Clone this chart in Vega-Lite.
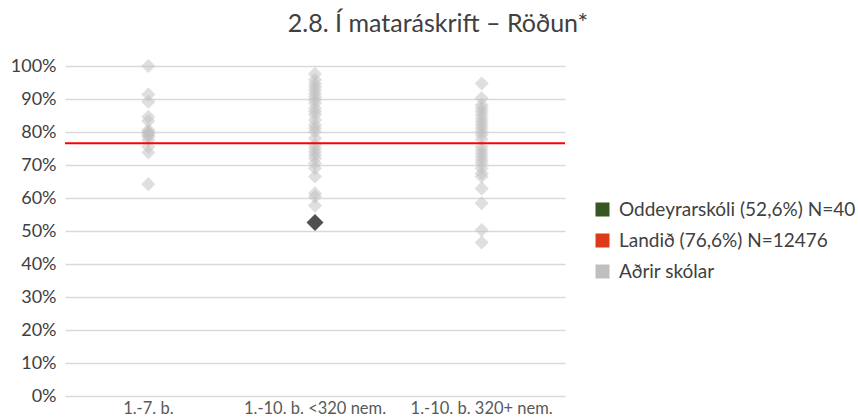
{
  "$schema": "https://vega.github.io/schema/vega-lite/v6.json",
  "width": 500,
  "height": 330,
  "autosize": "none",
  "padding": {"left": 65, "top": 66, "right": 293, "bottom": 22},
  "background": "white",
  "config": {
    "font": "Lato",
    "view": {"stroke": null}
  },
  "title": {
    "text": "2.8. Í mataráskrift – Röðun*",
    "fontSize": 25,
    "fontWeight": "normal",
    "color": "#404040",
    "anchor": "middle",
    "baseline": "alphabetic",
    "offset": 0,
    "dx": 123
  },
  "datasets": {
    "schools": [
      {"group": "1.-7. b.", "value": 100, "school": "other"},
      {"group": "1.-7. b.", "value": 91.4, "school": "other"},
      {"group": "1.-7. b.", "value": 89.2, "school": "other"},
      {"group": "1.-7. b.", "value": 84.6, "school": "other"},
      {"group": "1.-7. b.", "value": 83.3, "school": "other"},
      {"group": "1.-7. b.", "value": 80.6, "school": "other"},
      {"group": "1.-7. b.", "value": 80.0, "school": "other"},
      {"group": "1.-7. b.", "value": 79.6, "school": "other"},
      {"group": "1.-7. b.", "value": 79.0, "school": "other"},
      {"group": "1.-7. b.", "value": 78.6, "school": "other"},
      {"group": "1.-7. b.", "value": 77.6, "school": "other"},
      {"group": "1.-7. b.", "value": 75.5, "school": "other"},
      {"group": "1.-7. b.", "value": 73.8, "school": "other"},
      {"group": "1.-7. b.", "value": 64.2, "school": "other"},
      {"group": "1.-10. b. <320 nem.", "value": 97.6, "school": "other"},
      {"group": "1.-10. b. <320 nem.", "value": 95.8, "school": "other"},
      {"group": "1.-10. b. <320 nem.", "value": 94.7, "school": "other"},
      {"group": "1.-10. b. <320 nem.", "value": 93.7, "school": "other"},
      {"group": "1.-10. b. <320 nem.", "value": 92.7, "school": "other"},
      {"group": "1.-10. b. <320 nem.", "value": 91.7, "school": "other"},
      {"group": "1.-10. b. <320 nem.", "value": 90.7, "school": "other"},
      {"group": "1.-10. b. <320 nem.", "value": 89.7, "school": "other"},
      {"group": "1.-10. b. <320 nem.", "value": 88.7, "school": "other"},
      {"group": "1.-10. b. <320 nem.", "value": 87.2, "school": "other"},
      {"group": "1.-10. b. <320 nem.", "value": 86.2, "school": "other"},
      {"group": "1.-10. b. <320 nem.", "value": 85.2, "school": "other"},
      {"group": "1.-10. b. <320 nem.", "value": 83.6, "school": "other"},
      {"group": "1.-10. b. <320 nem.", "value": 82.1, "school": "other"},
      {"group": "1.-10. b. <320 nem.", "value": 81.1, "school": "other"},
      {"group": "1.-10. b. <320 nem.", "value": 80.1, "school": "other"},
      {"group": "1.-10. b. <320 nem.", "value": 78.1, "school": "other"},
      {"group": "1.-10. b. <320 nem.", "value": 76.1, "school": "other"},
      {"group": "1.-10. b. <320 nem.", "value": 75.1, "school": "other"},
      {"group": "1.-10. b. <320 nem.", "value": 74.0, "school": "other"},
      {"group": "1.-10. b. <320 nem.", "value": 73.0, "school": "other"},
      {"group": "1.-10. b. <320 nem.", "value": 72.0, "school": "other"},
      {"group": "1.-10. b. <320 nem.", "value": 70.5, "school": "other"},
      {"group": "1.-10. b. <320 nem.", "value": 69.0, "school": "other"},
      {"group": "1.-10. b. <320 nem.", "value": 66.5, "school": "other"},
      {"group": "1.-10. b. <320 nem.", "value": 61.4, "school": "other"},
      {"group": "1.-10. b. <320 nem.", "value": 60.4, "school": "other"},
      {"group": "1.-10. b. <320 nem.", "value": 57.7, "school": "other"},
      {"group": "1.-10. b. 320+ nem.", "value": 94.7, "school": "other"},
      {"group": "1.-10. b. 320+ nem.", "value": 90.2, "school": "other"},
      {"group": "1.-10. b. 320+ nem.", "value": 88.2, "school": "other"},
      {"group": "1.-10. b. 320+ nem.", "value": 87.2, "school": "other"},
      {"group": "1.-10. b. 320+ nem.", "value": 86.2, "school": "other"},
      {"group": "1.-10. b. 320+ nem.", "value": 85.2, "school": "other"},
      {"group": "1.-10. b. 320+ nem.", "value": 84.1, "school": "other"},
      {"group": "1.-10. b. 320+ nem.", "value": 83.1, "school": "other"},
      {"group": "1.-10. b. 320+ nem.", "value": 82.1, "school": "other"},
      {"group": "1.-10. b. 320+ nem.", "value": 81.1, "school": "other"},
      {"group": "1.-10. b. 320+ nem.", "value": 80.1, "school": "other"},
      {"group": "1.-10. b. 320+ nem.", "value": 79.1, "school": "other"},
      {"group": "1.-10. b. 320+ nem.", "value": 77.8, "school": "other"},
      {"group": "1.-10. b. 320+ nem.", "value": 75.5, "school": "other"},
      {"group": "1.-10. b. 320+ nem.", "value": 74.5, "school": "other"},
      {"group": "1.-10. b. 320+ nem.", "value": 73.5, "school": "other"},
      {"group": "1.-10. b. 320+ nem.", "value": 72.5, "school": "other"},
      {"group": "1.-10. b. 320+ nem.", "value": 71.5, "school": "other"},
      {"group": "1.-10. b. 320+ nem.", "value": 70.5, "school": "other"},
      {"group": "1.-10. b. 320+ nem.", "value": 69.0, "school": "other"},
      {"group": "1.-10. b. 320+ nem.", "value": 67.5, "school": "other"},
      {"group": "1.-10. b. 320+ nem.", "value": 66.5, "school": "other"},
      {"group": "1.-10. b. 320+ nem.", "value": 62.9, "school": "other"},
      {"group": "1.-10. b. 320+ nem.", "value": 58.4, "school": "other"},
      {"group": "1.-10. b. 320+ nem.", "value": 50.3, "school": "other"},
      {"group": "1.-10. b. 320+ nem.", "value": 46.5, "school": "other"}
    ],
    "focus": [
      {"group": "1.-10. b. <320 nem.", "value": 52.6, "school": "Oddeyrarskóli"}
    ],
    "national": [
      {"value": 76.6}
    ],
    "legendItems": [
      {"label": "Oddeyrarskóli (52,6%) N=40"},
      {"label": "Landið (76,6%) N=12476"},
      {"label": "Aðrir skólar"}
    ]
  },
  "encoding": {
    "y": {
      "field": "value",
      "type": "quantitative",
      "scale": {"domain": [0, 100], "nice": false},
      "axis": {
        "title": null,
        "values": [0, 10, 20, 30, 40, 50, 60, 70, 80, 90, 100],
        "tickCount": 11,
        "labelExpr": "datum.value + '%'",
        "labelOverlap": false,
        "labelFontSize": 18,
        "labelColor": "#404040",
        "labelPadding": 9,
        "ticks": false,
        "domain": false,
        "grid": true,
        "gridColor": "#d9d9d9",
        "gridWidth": 1.5
      }
    }
  },
  "layer": [
    {
      "data": {"name": "schools"},
      "mark": {"type": "point", "shape": "diamond", "filled": true, "size": 200, "color": "#bfbfbf", "opacity": 0.5},
      "encoding": {
        "x": {
          "field": "group",
          "type": "nominal",
          "sort": ["1.-7. b.", "1.-10. b. <320 nem.", "1.-10. b. 320+ nem."],
          "scale": {"type": "band", "paddingInner": 0, "paddingOuter": 0},
          "axis": {
            "title": null,
            "labelAngle": 0,
            "labelFontSize": 16.5,
            "labelColor": "#595959",
            "labelPadding": 4,
            "ticks": false,
            "domain": false,
            "grid": false
          }
        }
      }
    },
    {
      "data": {"name": "national"},
      "mark": {"type": "rule", "color": "#ff0000", "strokeWidth": 2},
      "encoding": {}
    },
    {
      "data": {"name": "focus"},
      "mark": {"type": "point", "shape": "diamond", "filled": true, "size": 290, "color": "#505050", "opacity": 1},
      "encoding": {
        "x": {"field": "group", "type": "nominal", "sort": ["1.-7. b.", "1.-10. b. <320 nem.", "1.-10. b. 320+ nem."]}
      }
    },
    {
      "data": {"name": "legendItems"},
      "mark": {"type": "square", "opacity": 0, "size": 0},
      "encoding": {
        "color": {
          "field": "label",
          "type": "nominal",
          "scale": {
            "domain": ["Oddeyrarskóli (52,6%) N=40", "Landið (76,6%) N=12476", "Aðrir skólar"],
            "range": ["#375623", "#dd3a1b", "#bfbfbf"]
          },
          "legend": {
            "title": null,
            "orient": "none",
            "legendX": 528,
            "legendY": 134,
            "symbolType": "square",
            "symbolSize": 196,
            "symbolOpacity": 1,
            "symbolStrokeWidth": 0,
            "labelFontSize": 19,
            "labelColor": "#404040",
            "labelOffset": 7,
            "rowPadding": 11,
            "labelLimit": 400
          }
        }
      }
    }
  ]
}
